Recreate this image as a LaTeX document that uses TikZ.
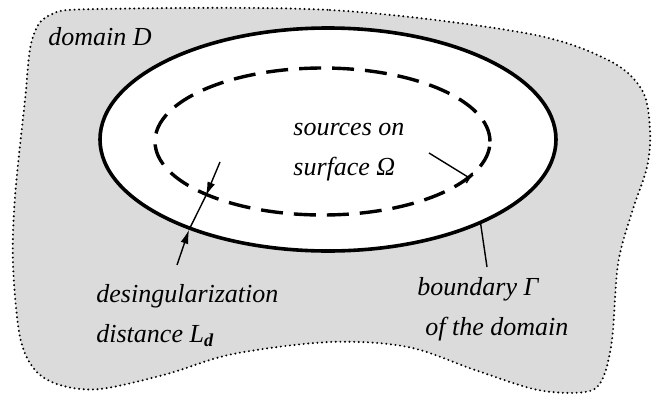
\documentclass[tikz,border=0pt]{standalone}
\usepackage{fontspec}
\setmainfont{Liberation Serif}
\usetikzlibrary{arrows.meta, shapes.geometric}

\begin{document}
\begin{tikzpicture}[x=0.5pt, y=-0.5pt,
  label/.style={font=\fontsize{13pt}{20pt}\selectfont\itshape, align=left, inner sep=0pt, anchor=base west},
  leader/.style={line width=0.7pt},
  arrow/.style={leader, -{Latex[length=7pt, width=4pt]}},
  rim/.style={draw, ellipse, inner sep=0pt, fill=white}
]
\useasboundingbox (0,0) rectangle (655,397);

% the domain
\fill[gray!28] plot[smooth cycle, tension=0.55] coordinates {
  (100,9) (330,10) (525,33) (608,60) (642,90) (650,130) (647,167) (632,212)
  (618,264) (612,340) (602,380) (585,392) (538,390) (475,370) (408,347)
  (330,342) (233,354) (167,374) (100,389) (60,385) (35,370) (20,337)
  (13,264) (15,197) (25,100) (32,40) (50,15)};
\draw[line width=1.1pt, line cap=round, dash pattern=on 0pt off 2.3pt]
  plot[smooth cycle, tension=0.55] coordinates {
  (100,9) (330,10) (525,33) (608,60) (642,90) (650,130) (647,167) (632,212)
  (618,264) (612,340) (602,380) (585,392) (538,390) (475,370) (408,347)
  (330,342) (233,354) (167,374) (100,389) (60,385) (35,370) (20,337)
  (13,264) (15,197) (25,100) (32,40) (50,15)};

\node[rim, line width=1.8pt, minimum width=228pt, minimum height=111.5pt] (gamma) at (328,139.5) {};
\node[draw, ellipse, inner sep=0pt, line width=1.7pt, dash pattern=on 11pt off 5.5pt,
  minimum width=167.5pt, minimum height=73.5pt] (omega) at (322.5,141.5) {};

% base anchor sits on the last line
\node[label] (domain) at (48,45) {domain \textit{D}};
\node[label] (sources) at (293,175) {sources on\\surface Ω};
\node[label] (dist) at (96,342) {desingularization\\distance L\textsubscript{\textbf{d}}};
\node[label] (bound) at (417,335) {boundary Γ\\\hspace*{4pt}of the domain};

\coordinate (dtop) at (220,162);
\coordinate (dbot) at (177,265);
\coordinate (sfoot) at (429,153);
\coordinate (bfoot) at (487,267);

\draw[arrow] (dtop) -- (omega.205);
\draw[arrow] (dbot) -- (gamma.213);
\draw[leader] (omega.205) -- (gamma.213);
\draw[leader, -{Bar[width=6pt]}] (sfoot) -- (omega.-14);
\draw[leader] (bfoot) -- (gamma.-29);
\end{tikzpicture}
\end{document}
